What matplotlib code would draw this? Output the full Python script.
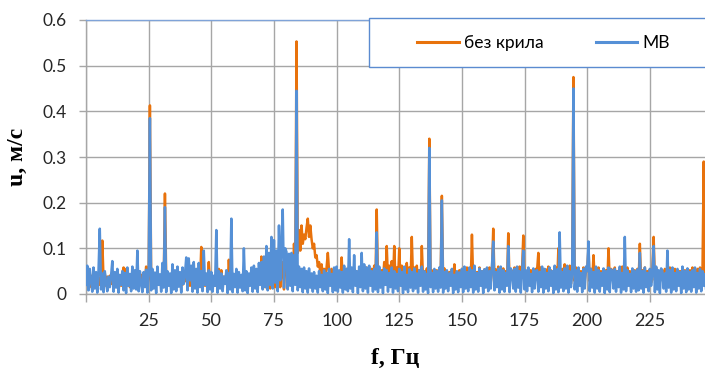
import numpy as np
import matplotlib.pyplot as plt
from matplotlib.patches import Rectangle

# амплітудні спектри швидкості, крок 0.5 Гц, значення в мм/с (тисячні м/с)
# кожен рядок - 10 Гц
mv = [
    20, 62, 8, 55, 30, 5, 58, 12, 48, 3, 52, 143, 10, 45, 4, 50, 25, 6, 38, 15,
    40, 72, 5, 48, 14, 55, 3, 42, 20, 50, 8, 46, 2, 58, 18, 44, 6, 60, 12, 52,
    10, 95, 6, 50, 22, 4, 48, 15, 53, 3, 45, 385, 8, 55, 12, 47, 2, 60, 20, 43,
    5, 68, 14, 190, 4, 50, 18, 45, 2, 65, 10, 52, 6, 60, 16, 48, 3, 58, 22, 44,
    80, 8, 78, 30, 62, 5, 70, 12, 55, 3, 68, 15, 50, 6, 95, 20, 45, 4, 52, 10,
    48, 5, 40, 18, 140, 3, 50, 12, 45, 6, 38, 22, 52, 2, 46, 10, 165, 4, 44, 15,
    55, 3, 48, 14, 42, 6, 100, 8, 50, 2, 45, 18, 58, 5, 62, 12, 55, 4, 68, 20,
    70, 10, 82, 15, 105, 8, 90, 20, 125, 12, 118, 25, 95, 6, 150, 30, 110, 185, 14, 100,
    92, 10, 88, 18, 90, 6, 85, 20, 445, 8, 60, 15, 55, 4, 58, 12, 50, 3, 56, 14,
    45, 5, 48, 12, 40, 3, 50, 15, 42, 6, 52, 10, 46, 2, 55, 18, 44, 4, 58, 8,
    60, 5, 52, 14, 48, 3, 62, 10, 55, 6, 120, 12, 58, 4, 85, 18, 50, 2, 60, 15,
    90, 6, 65, 12, 58, 3, 62, 18, 50, 5, 55, 10, 135, 4, 60, 14, 48, 2, 56, 20,
    52, 5, 46, 15, 58, 3, 50, 12, 44, 6, 55, 18, 48, 2, 60, 10, 42, 4, 54, 14,
    48, 6, 56, 12, 45, 3, 52, 18, 60, 5, 50, 10, 44, 2, 320, 15, 46, 4, 55, 12,
    50, 5, 58, 14, 205, 3, 48, 12, 52, 6, 45, 18, 55, 2, 42, 10, 50, 4, 47, 15,
    55, 4, 60, 12, 48, 6, 58, 15, 52, 3, 62, 10, 46, 5, 56, 18, 50, 2, 54, 14,
    58, 6, 50, 12, 62, 115, 8, 48, 15, 55, 3, 60, 10, 52, 5, 46, 18, 105, 4, 56,
    48, 12, 55, 5, 60, 14, 50, 3, 46, 95, 10, 52, 6, 58, 18, 44, 4, 56, 12, 50,
    52, 5, 48, 15, 60, 3, 55, 12, 46, 6, 58, 18, 50, 2, 62, 10, 54, 4, 135, 14,
    48, 6, 56, 12, 62, 3, 50, 15, 45, 450, 10, 52, 5, 58, 18, 46, 4, 55, 12, 60,
    50, 115, 6, 55, 14, 48, 3, 60, 12, 52, 5, 46, 18, 56, 2, 50, 10, 58, 4, 54,
    48, 12, 55, 5, 50, 15, 60, 3, 46, 10, 125, 6, 52, 18, 44, 4, 56, 12, 50, 5,
    54, 8, 90, 12, 50, 3, 58, 15, 46, 6, 55, 18, 48, 105, 4, 60, 10, 52, 2, 56,
    50, 12, 45, 5, 95, 14, 52, 3, 58, 10, 46, 6, 55, 18, 48, 2, 60, 12, 50, 4,
    56, 10, 48, 5, 52, 15, 58, 3, 46, 12, 55, 6, 50, 18, 44, 4, 58, 10, 52, 6,
]

bez_kryla = [
    30, 20, 35, 15, 40, 22, 38, 18, 42, 25, 36, 20, 40, 117, 30, 45, 18, 38, 25, 40,
    22, 38, 15, 42, 28, 35, 20, 40, 18, 44, 58, 25, 55, 30, 38, 15, 42, 22, 36, 18,
    40, 20, 36, 25, 42, 18, 38, 28, 60, 22, 35, 413, 30, 42, 18, 38, 25, 40, 20, 36,
    28, 42, 20, 220, 35, 18, 40, 25, 38, 22, 44, 30, 36, 18, 42, 25, 38, 20, 40, 28,
    35, 22, 40, 18, 38, 25, 42, 20, 36, 28, 44, 22, 103, 30, 40, 18, 38, 25, 70, 22,
    40, 25, 36, 18, 42, 22, 55, 28, 52, 20, 38, 25, 44, 18, 75, 30, 40, 22, 36, 25,
    38, 22, 42, 18, 36, 25, 40, 28, 44, 20, 38, 22, 42, 25, 36, 18, 45, 28, 40, 22,
    82, 20, 45, 15, 50, 18, 45, 12, 50, 20, 48, 15, 45, 20, 55, 15, 50, 70, 10, 60,
    60, 25, 70, 30, 65, 28, 110, 60, 553, 90, 140, 95, 150, 110, 130, 120, 145, 165, 125, 150,
    120, 100, 110, 80, 85, 60, 70, 45, 65, 40, 55, 35, 58, 90, 50, 35, 55, 30, 50, 28,
    52, 30, 48, 25, 80, 28, 50, 30, 55, 22, 62, 25, 48, 30, 52, 22, 50, 28, 46, 25,
    55, 25, 50, 28, 58, 22, 52, 30, 55, 25, 62, 28, 185, 30, 50, 22, 52, 28, 70, 25,
    105, 30, 62, 28, 72, 25, 105, 30, 58, 28, 100, 25, 62, 30, 52, 22, 68, 28, 58, 25,
    125, 30, 58, 25, 62, 28, 52, 22, 105, 30, 50, 25, 56, 28, 340, 30, 52, 22, 48, 28,
    52, 25, 48, 28, 215, 30, 56, 22, 50, 28, 48, 25, 54, 30, 65, 22, 48, 28, 52, 25,
    55, 25, 48, 28, 58, 30, 50, 22, 130, 28, 52, 25, 48, 30, 58, 22, 50, 28, 54, 25,
    52, 28, 58, 25, 50, 143, 30, 54, 25, 60, 28, 52, 22, 56, 30, 50, 25, 133, 28, 54,
    50, 25, 58, 28, 52, 22, 60, 30, 54, 128, 25, 50, 28, 56, 22, 52, 30, 48, 25, 55,
    52, 90, 28, 58, 25, 50, 30, 54, 22, 60, 28, 52, 25, 50, 30, 58, 22, 100, 28, 52,
    55, 28, 65, 25, 58, 30, 62, 22, 52, 475, 28, 58, 25, 54, 30, 50, 22, 58, 28, 52,
    50, 100, 28, 55, 25, 85, 30, 52, 22, 58, 28, 50, 25, 54, 30, 52, 22, 100, 28, 55,
    52, 25, 58, 28, 50, 30, 54, 22, 60, 25, 52, 28, 58, 30, 50, 22, 54, 25, 52, 28,
    55, 28, 110, 25, 52, 30, 58, 22, 50, 28, 54, 25, 52, 125, 30, 58, 22, 50, 28, 52,
    50, 25, 55, 28, 52, 22, 58, 30, 50, 25, 55, 28, 52, 22, 50, 30, 58, 25, 52, 28,
    55, 28, 52, 25, 58, 30, 50, 22, 55, 28, 58, 25, 52, 290, 30, 55, 28, 52, 25, 50,
]

x_ticks = [0, 25, 50, 75, 100, 125, 150, 175, 200, 225]
x_labels = ['', '25', '50', '75', '100', '125', '150', '175', '200', '225']
y_ticks = [0, 0.1, 0.2, 0.3, 0.4, 0.5, 0.6]
y_labels = ['0', '0.1', '0.2', '0.3', '0.4', '0.5', '0.6']

f = np.arange(len(mv)) * 0.5
u_mv = np.array(mv) / 1000
u_bk = np.array(bez_kryla) / 1000

orange = '#E8720C'
blue = '#5590D6'
grid_c = '#A6A6A6'

plt.rcParams['font.family'] = ['Lato', 'DejaVu Sans']
# без спрощення шляху, щоб зигзаг шуму малювався повністю
plt.rcParams['path.simplify'] = False

fig = plt.figure(figsize=(7.05, 3.7), dpi=100)
ax = fig.add_axes([86 / 705, 1 - 294 / 370, 1 - 86 / 705, 274 / 370])

ax.plot(f, u_bk, color=orange, lw=1.8, label='без крила', zorder=3)
ax.plot(f, u_mv, color=blue, lw=1.8, label='МВ', zorder=4)

ax.set_xlim(0, 247)
ax.set_ylim(0, 0.6)
ax.set_xticks(x_ticks)
ax.set_xticklabels(x_labels)
ax.set_yticks(y_ticks)
ax.set_yticklabels(y_labels)
ax.tick_params(axis='x', length=5.5, width=1, color=grid_c, pad=8, labelsize=13, labelcolor='#262626')
ax.tick_params(axis='y', length=5, width=1, color=grid_c, pad=9, labelsize=12.5, labelcolor='#262626')
ax.grid(True, color=grid_c, lw=1)
ax.set_axisbelow(True)

for s in ['left', 'bottom']:
    ax.spines[s].set_color(grid_c)
    ax.spines[s].set_linewidth(1)
ax.spines['right'].set_visible(False)
ax.spines['top'].set_color('#7FA3D8')
ax.spines['top'].set_linewidth(1)

ax.set_xlabel('f, Гц', family=['Liberation Serif'], fontsize=17, fontweight='bold')
ax.xaxis.set_label_coords(0.5, -0.197)
ax.set_ylabel('u, м/с', family=['Liberation Serif'], fontsize=17, fontweight='bold')
ax.yaxis.set_label_coords(-0.094, 0.5)

# рамка легенди
box = Rectangle((283 / 619, 0.828), 0.56, 0.179, transform=ax.transAxes,
                facecolor='white', edgecolor='#5B8BD0', lw=1, clip_on=False, zorder=10)
ax.add_patch(box)
leg = ax.legend(loc='center', bbox_to_anchor=(0.739, 0.916), ncol=2, fontsize=12.5,
                frameon=False, handlelength=2.4, handletextpad=0.3, columnspacing=3.0,
                borderpad=0, borderaxespad=0)
leg.set_zorder(11)
for ln in leg.get_lines():
    ln.set_linewidth(2.2)

plt.savefig('out.png', dpi=100)
